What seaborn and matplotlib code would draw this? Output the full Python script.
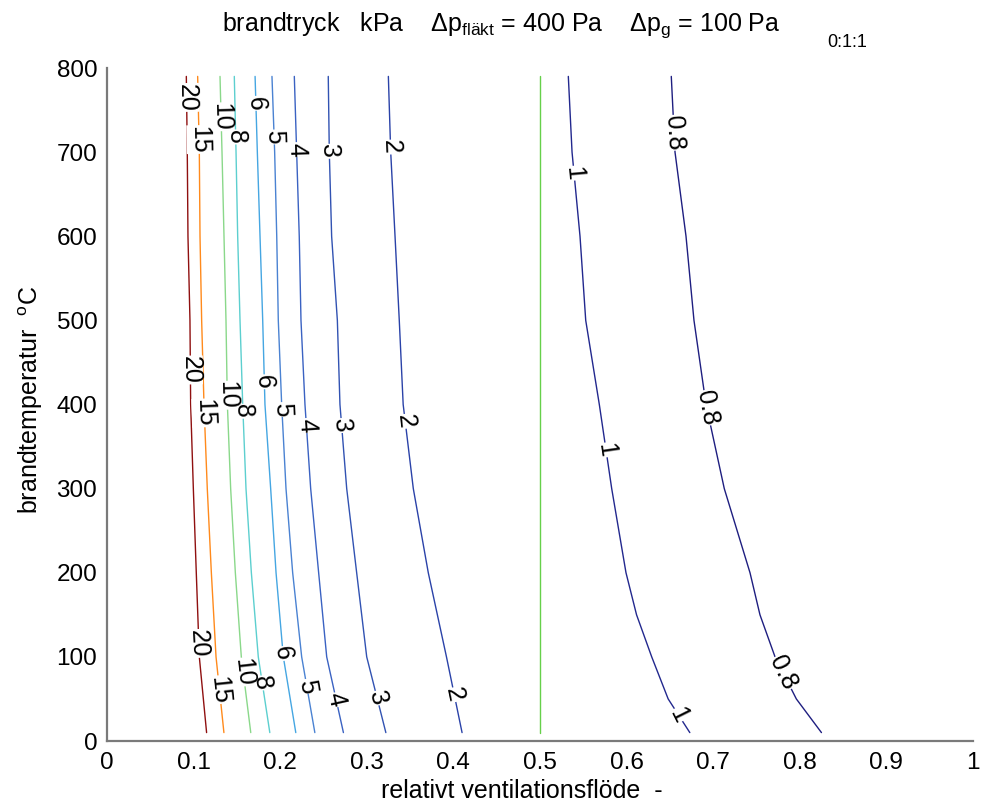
import numpy as np
import pandas as pd
import matplotlib
matplotlib.use("Agg")
import matplotlib.pyplot as plt
import seaborn as sns

# ---- data ----
y_left = [10, 100, 200, 300, 400, 500, 600, 700, 790]
x_20 = [0.115, 0.1066, 0.1031, 0.0997, 0.0966, 0.0958, 0.0935, 0.0927, 0.0916]
x_15 = [0.135, 0.1259, 0.1205, 0.1158, 0.1120, 0.1093, 0.1074, 0.1066, 0.1047]
x_10 = [0.166, 0.1551, 0.1482, 0.1428, 0.1390, 0.1374, 0.1351, 0.1328, 0.1305]
x_8 = [0.188, 0.1747, 0.1667, 0.1605, 0.1567, 0.1536, 0.1509, 0.1490, 0.1470]
x_6 = [0.218, 0.2036, 0.1952, 0.1890, 0.1824, 0.1798, 0.1767, 0.1736, 0.1710]
x_5 = [0.240, 0.2248, 0.2144, 0.2067, 0.2017, 0.1978, 0.1960, 0.1936, 0.1905]
x_4 = [0.273, 0.2537, 0.2444, 0.2352, 0.2286, 0.2240, 0.2220, 0.2190, 0.2163]
x_3 = [0.322, 0.2999, 0.2883, 0.2768, 0.2690, 0.2660, 0.2594, 0.2567, 0.2555]
x_2 = [0.410, 0.3920, 0.3710, 0.3537, 0.3420, 0.3375, 0.3326, 0.3276, 0.3249]

y_right = [10, 50, 100, 150, 200, 300, 400, 500, 600, 700, 790]
x_1 = [0.673, 0.648, 0.629, 0.6115, 0.5993, 0.5828, 0.5685, 0.5528, 0.5462, 0.5370, 0.5327]
x_08 = [0.825, 0.796, 0.7714, 0.754, 0.7425, 0.7128, 0.6917, 0.6778, 0.6686, 0.6559, 0.6516]

levels = ["20", "15", "10", "8", "6", "5", "4", "3", "2", "1", "0.8"]
level_x = [x_20, x_15, x_10, x_8, x_6, x_5, x_4, x_3, x_2, x_1, x_08]
level_colors = ["#8f1010", "#ff8a1c", "#8ad88a", "#5ccfcf", "#45a6e2", "#4a82d2",
                "#3a62c2", "#3152b2", "#2a42a8", "#22288e", "#1e1e80"]

# label heights (three rows) for each level
label_y_top = [765, 715, 742, 718, 758, 718, 703, 701, 706, 675, 723]
label_y_mid = [441, 390, 411, 392, 427, 394, 375, 375, 380, 346, 396]
label_y_bot = [116, 61, 82, 69, 104, 65, 49, 51, 55, 31, 81]

green_x = 0.5
y_range = [10, 790]

x_ticks = [0, 0.1, 0.2, 0.3, 0.4, 0.5, 0.6, 0.7, 0.8, 0.9, 1]
x_ticklabels = ["0", "0.1", "0.2", "0.3", "0.4", "0.5", "0.6", "0.7", "0.8", "0.9", "1"]
y_ticks = [0, 100, 200, 300, 400, 500, 600, 700, 800]

# ---- build table ----
rows = []
for lev, xs in zip(levels, level_x):
    ys = y_right if lev in ("1", "0.8") else y_left
    for xv, yv in zip(xs, ys):
        rows.append({"x": xv, "y": yv, "level": lev})
df = pd.DataFrame(rows)
df_green = pd.DataFrame({"x": [green_x, green_x], "y": y_range})

sns.set_style("white")
plt.rcParams["font.family"] = ["Liberation Sans", "DejaVu Sans"]
plt.rcParams["mathtext.fontset"] = "custom"
plt.rcParams["mathtext.rm"] = "Liberation Sans"
plt.rcParams["mathtext.it"] = "Liberation Sans"
for k in ["text.color", "axes.labelcolor", "xtick.color", "ytick.color"]:
    plt.rcParams[k] = "black"

fig = plt.figure(figsize=(9.81, 8.08), dpi=100)
ax = fig.add_axes([107 / 981, (808 - 741) / 808, 866 / 981, 673 / 808])

sns.lineplot(data=df, x="x", y="y", hue="level", hue_order=levels,
             palette=dict(zip(levels, level_colors)), estimator=None,
             sort=False, orient="y", legend=False, linewidth=1.0, ax=ax)
sns.lineplot(data=df_green, x="x", y="y", color="#66d04a", linewidth=1.0,
             estimator=None, sort=False, orient="y", legend=False, ax=ax)

ax.set_xlim(0, 1)
ax.set_ylim(0, 800)
ax.set_xticks(x_ticks)
ax.set_xticklabels(x_ticklabels)
ax.set_yticks(y_ticks)
ax.tick_params(direction="in", length=6, width=1, color="black",
               labelsize=17.5)
ax.tick_params(axis="x", pad=8)
ax.tick_params(axis="y", pad=7)
for s in ["top", "right"]:
    ax.spines[s].set_visible(False)
for s in ["left", "bottom"]:
    ax.spines[s].set_color("#7a7a7a")
    ax.spines[s].set_linewidth(1.6)

ax.set_xlabel("relativt ventilationsflöde  -", fontsize=18)
ax.set_ylabel(r"brandtemperatur  $^{\mathrm{o}}$C", fontsize=18)
ax.xaxis.set_label_coords(0.479, -0.056)
ax.yaxis.set_label_coords(-0.072, 0.507)

# ---- inline contour labels ----
fig.canvas.draw()
for lev, xs in zip(levels, level_x):
    ys = np.array(y_right if lev in ("1", "0.8") else y_left, dtype=float)
    xs = np.array(xs, dtype=float)
    for row in (label_y_top, label_y_mid, label_y_bot):
        ly = row[levels.index(lev)]
        lx = np.interp(ly, ys, xs)
        p0 = ax.transData.transform((np.interp(ly + 30, ys, xs), ly + 30))
        p1 = ax.transData.transform((np.interp(ly - 30, ys, xs), ly - 30))
        ang = np.degrees(np.arctan2(p1[1] - p0[1], p1[0] - p0[0]))
        common = dict(rotation=ang, rotation_mode="anchor", ha="center",
                      va="center", fontsize=18)
        # white gap in the line behind the label
        ax.text(lx, ly, lev, color=(1, 1, 1, 0), zorder=4,
                bbox=dict(facecolor="white", edgecolor="none", pad=0.4),
                **common)
        ax.text(lx, ly, lev, color="black", zorder=5, **common)

# ---- title ----
fig.text(0.511, 0.969,
         r"brandtryck   kPa    $\Delta$p$_{\mathrm{fläkt}}$ = 400 Pa    $\Delta$p$_{\mathrm{g}}$ = 100 Pa",
         ha="center", va="center", fontsize=18)
fig.text(0.864, 0.948, "0:1:1", ha="center", va="center", fontsize=13)

fig.savefig("out.png", dpi=100)
